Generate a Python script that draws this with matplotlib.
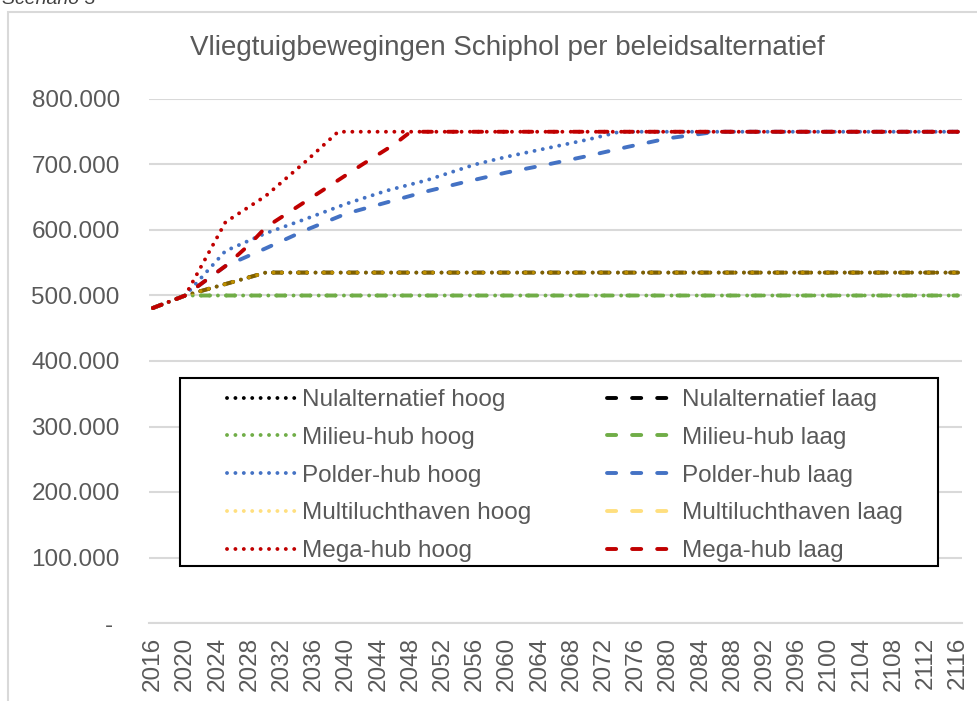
import matplotlib
matplotlib.use("Agg")
import matplotlib.pyplot as plt
from matplotlib.patches import Rectangle
from matplotlib.ticker import FuncFormatter

# aircraft movements per policy alternative
nul_hoog_x = [2016, 2020, 2030, 2116]
nul_hoog_y = [481000, 500000, 535000, 535000]
nul_laag_x = [2016, 2020, 2030, 2116]
nul_laag_y = [481000, 500000, 535000, 535000]

milieu_hoog_x = [2016, 2020, 2116]
milieu_hoog_y = [481000, 500000, 500000]
milieu_laag_x = [2016, 2020, 2116]
milieu_laag_y = [481000, 500000, 500000]

polder_hoog_x = [2016, 2020, 2025, 2030, 2035, 2040, 2045, 2050, 2056, 2060, 2065, 2070, 2074, 2116]
polder_hoog_y = [481000, 500000, 568000, 595000, 617000, 640000, 660000, 676000, 700000,
                 712000, 725000, 738000, 750000, 750000]
polder_laag_x = [2016, 2020, 2025, 2030, 2035, 2040, 2045, 2050, 2055, 2060, 2065, 2070,
                 2075, 2080, 2086, 2116]
polder_laag_y = [481000, 500000, 545000, 572000, 600000, 625000, 642000, 659000, 674000,
                 688000, 700000, 713000, 727000, 740000, 750000, 750000]

multi_hoog_x = [2016, 2020, 2030, 2116]
multi_hoog_y = [481000, 500000, 535000, 535000]
multi_laag_x = [2016, 2020, 2030, 2116]
multi_laag_y = [481000, 500000, 535000, 535000]

mega_hoog_x = [2016, 2020, 2025, 2030, 2035, 2039, 2116]
mega_hoog_y = [481000, 500000, 612000, 652000, 705000, 750000, 750000]
mega_laag_x = [2016, 2020, 2025, 2028, 2030, 2034, 2038, 2042, 2046, 2048, 2116]
mega_laag_y = [481000, 500000, 545000, 578000, 604000, 636000, 668000, 700000, 731000,
               750000, 750000]

title = "Vliegtuigbewegingen Schiphol per beleidsalternatief"
y_ticks = [0, 100000, 200000, 300000, 400000, 500000, 600000, 700000, 800000]
x_ticks = list(range(2016, 2117, 4))

W, H = 978, 701
TXT = "#595959"
GRID = "#D9D9D9"
FONT = "Liberation Sans"
FS = 17.5

plt.rcParams["font.family"] = FONT

fig = plt.figure(figsize=(W / 100, H / 100), dpi=100)
ax = fig.add_axes([149 / W, (H - 623) / H, (962 - 149) / W, (623 - 99) / H])

DOT = (0, (0.01, 2.15))
DASH = (0, (2.35, 4.1))
LW = 2.8

series = [
    (nul_hoog_x, nul_hoog_y, "#000000", DOT, "Nulalternatief hoog", 1.0),
    (nul_laag_x, nul_laag_y, "#000000", DASH, "Nulalternatief laag", 1.0),
    (milieu_hoog_x, milieu_hoog_y, "#70AD47", DOT, "Milieu-hub hoog", 1.0),
    (milieu_laag_x, milieu_laag_y, "#70AD47", DASH, "Milieu-hub laag", 1.0),
    (polder_hoog_x, polder_hoog_y, "#4472C4", DOT, "Polder-hub hoog", 1.0),
    (polder_laag_x, polder_laag_y, "#4472C4", DASH, "Polder-hub laag", 1.0),
    (multi_hoog_x, multi_hoog_y, "#FFC000", DOT, "Multiluchthaven hoog", 0.5),
    (multi_laag_x, multi_laag_y, "#FFC000", DASH, "Multiluchthaven laag", 0.5),
    (mega_hoog_x, mega_hoog_y, "#C00000", DOT, "Mega-hub hoog", 1.0),
    (mega_laag_x, mega_laag_y, "#C00000", DASH, "Mega-hub laag", 1.0),
]

handles = {}
for i, (xs, ys, col, ls, lab, a) in enumerate(series):
    ln, = ax.plot(xs, ys, color=col, linestyle=ls, lw=LW, alpha=a,
                  dash_capstyle="round", solid_capstyle="round", label=lab, zorder=3 + i)
    handles[lab] = ln

ax.set_xlim(2015.5, 2116.5)
ax.set_ylim(0, 800000)
ax.set_yticks(y_ticks)
ax.set_xticks(x_ticks)
ax.yaxis.set_major_formatter(FuncFormatter(
    lambda v, p: "- " if v == 0 else f"{int(v):,}".replace(",", ".")))
ax.tick_params(axis="y", length=0, pad=21, labelsize=FS, labelcolor=TXT)
ax.tick_params(axis="x", length=0, pad=10, labelsize=FS, labelcolor=TXT, labelrotation=90)
ax.grid(axis="y", color=GRID, lw=1.5)
ax.set_axisbelow(True)
for s in ["top", "right", "left"]:
    ax.spines[s].set_visible(False)
ax.spines["bottom"].set_color(GRID)
ax.spines["bottom"].set_linewidth(1.5)

# legend box drawn separately, entries in two columns (hoog left, laag right)
lx0, lx1 = (180 - 149) / 813, (938 - 149) / 813
ly0, ly1 = (623 - 566) / 524, (623 - 378) / 524
ax.add_patch(Rectangle((lx0, ly0), lx1 - lx0, ly1 - ly0, transform=ax.transAxes,
                       facecolor="white", edgecolor="black", lw=1.5, zorder=20))
order = [lab for _, _, _, _, lab, _ in series]
order = order[0::2] + order[1::2]
leg = ax.legend([handles[l] for l in order], order, ncol=2, frameon=False,
                loc="upper left", bbox_to_anchor=((227 - 149) / 813, (623 - 389) / 524),
                borderpad=0, borderaxespad=0, fontsize=FS, labelcolor=TXT,
                handlelength=2.8, handletextpad=0.3, columnspacing=3.1, labelspacing=0.65)
leg.set_zorder(21)

fig.text(507 / W, 1 - 48 / H, title, ha="center", va="center", fontsize=20, color=TXT)
fig.text(2 / W, 1 - 4 / H, "Scenario 3", ha="left", va="baseline", fontsize=14,
         style="italic", color="#404040")

# outer chart border
fig.patches.append(Rectangle((8 / W, -0.1), 2, 1.1 - 12 / H, transform=fig.transFigure,
                             fill=False, edgecolor=GRID, lw=1.5))

fig.savefig("out.png", dpi=100)
